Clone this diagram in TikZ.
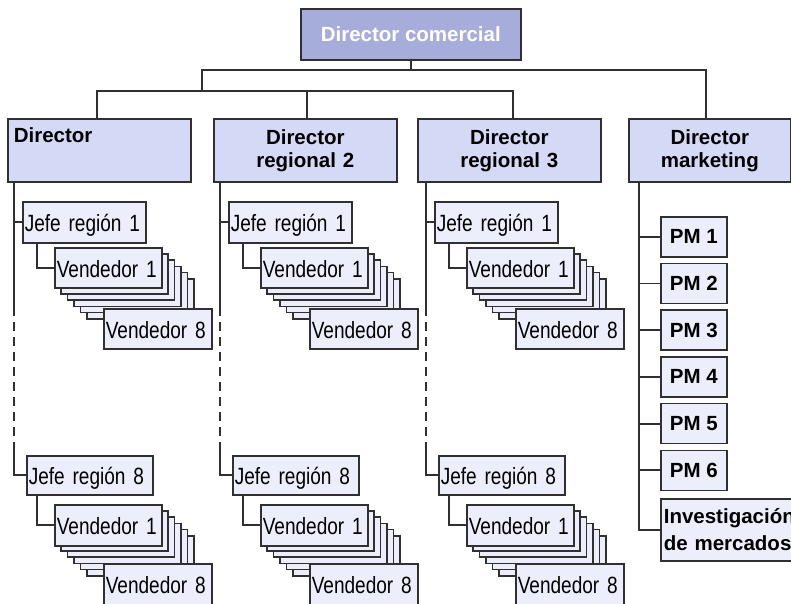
\documentclass[tikz,border=0pt]{standalone}
\usepackage{fontspec}
\setmainfont{Liberation Sans}
\newfontfamily\narrowsans[FakeStretch=0.81]{Liberation Sans}
\usetikzlibrary{backgrounds}
\definecolor{topfill}{RGB}{167,173,218}
\definecolor{dirfill}{RGB}{212,218,245}
\definecolor{unitfill}{RGB}{236,238,252}
\definecolor{ink}{RGB}{48,48,48}

\begin{document}
\begin{tikzpicture}[x=1pt,y=-1pt,
  link/.style={draw=ink,line width=1.8pt},
  gap/.style={link,line width=2pt,dash pattern=on 9pt off 6pt},
  frame/.style={draw=ink,line width=1.6pt,anchor=north west,inner ysep=0pt},
  headbox/.style={frame,fill=topfill,text=white,
    font=\bfseries\fontsize{20.5}{23}\selectfont,
    minimum width=220pt,minimum height=51pt,inner xsep=0pt},
  dirbox/.style={frame,fill=dirfill,font=\bfseries\fontsize{20.5}{23}\selectfont,
    text width=#1,minimum height=63pt,inner xsep=6pt},
  unitbox/.style 2 args={frame,fill=unitfill,
    font=\narrowsans\fontsize{23.5}{26}\selectfont,
    text width=#1,minimum height=#2,inner xsep=2pt,
    text height=19pt,text depth=0pt,align=left},
  pmbox/.style={frame,fill=unitfill,font=\bfseries\fontsize{20.5}{23}\selectfont,
    minimum width=66pt,minimum height=40pt,inner xsep=0pt}
]
\useasboundingbox (0,0) rectangle (791,603);

% top of the hierarchy
\node[headbox] (dc) at (300,8) {Director comercial};

% second level
\node[dirbox=171pt,align=left]   (d1) at (7,118)   {Director\\\strut};
\node[dirbox=171pt,align=center] (d2) at (213,118) {Director\\regional 2};
\node[dirbox=171pt,align=center] (d3) at (417,118) {Director\\regional 3};
\node[dirbox=150pt,align=center] (d4) at (628,118) {Director\\marketing};

% regional columns: region heads with their stacked sales staff
\foreach \c in {0,1,2}{
  \pgfmathsetmacro\dx{206*\c}
  % first region
  \foreach \k in {5,4,3,2,1}{
    \node[unitbox={103pt}{40pt}] (ua\c-\k) at ({54+\dx+6.4*\k},{247+6.2*\k}) {};
  }
  \node[unitbox={103pt}{40pt}] (ua\c) at ({54+\dx},247) {Vendedor 1};
  \node[unitbox={104pt}{40pt}] (ub\c) at ({103+\dx},308) {Vendedor 8};
  \node[unitbox={119pt}{41pt}] (ja\c) at ({22+\dx},201) {Jefe región 1};
  % last region
  \foreach \k in {5,4,3,2,1}{
    \node[unitbox={103pt}{40pt}] (va\c-\k) at ({54+\dx+6.4*\k},{504+6.2*\k}) {};
  }
  \node[unitbox={103pt}{41pt}] (va\c) at ({54+\dx},504) {Vendedor 1};
  \node[unitbox={104pt}{41pt}] (vb\c) at ({103+\dx},563) {Vendedor 8};
  \node[unitbox={122pt}{39pt}] (jb\c) at ({26+\dx},455) {Jefe región 8};
}

% marketing column
\foreach \i in {1,...,6}{
  \node[pmbox] (pm\i) at (660,{216+46.7*(\i-1)}) {PM \i};
}
\node[frame,fill=unitfill,font=\bfseries\fontsize{20.5}{27}\selectfont,
  align=left,text width=200pt,inner xsep=3pt,minimum height=62pt]
  (inv) at (660,498) {Investigación\\de mercados};

% connectors
\begin{scope}[on background layer]
  \coordinate (l1) at (202,70);
  \coordinate (r1) at (706,70);
  \coordinate (l2) at (97,91);
  \coordinate (m2) at (307,91);
  \coordinate (r2) at (513,91);
  \draw[link] (dc.south) -- (dc.south |- l1);
  \draw[link] (d4.north -| r1) -- (r1) -- (l1) -- (l1 |- l2);
  \draw[link] (d1.north -| l2) -- (l2) -- (r2) -- (d3.north -| r2);
  \draw[link] (m2) -- (d2.north -| m2);

  \foreach \c in {0,1,2}{
    \pgfmathsetmacro\dx{206*\c}
    \coordinate (tt\c) at ({14+\dx},181);
    \coordinate (ts\c) at ({14+\dx},307);
    \coordinate (tg\c) at ({14+\dx},447);
    \draw[link] (tt\c) -- (ts\c);
    \draw[gap] (ts\c) -- (tg\c);
    \draw[link] (tg\c) |- (jb\c.west);
    \draw[link] (ja\c.west -| tt\c) -- (ja\c.west);
    \draw[link] ([xshift=15pt]ja\c.south west) |- (ua\c.west);
    \draw[link] ([xshift=11pt]jb\c.south west) |- (va\c.west);
  }

  \coordinate (mt) at (639,181);
  \draw[link] (mt) |- (inv.west);
  \foreach \i in {1,...,6}{
    \draw[link] (pm\i.west -| mt) -- (pm\i.west);
  }
\end{scope}
\end{tikzpicture}
\end{document}
